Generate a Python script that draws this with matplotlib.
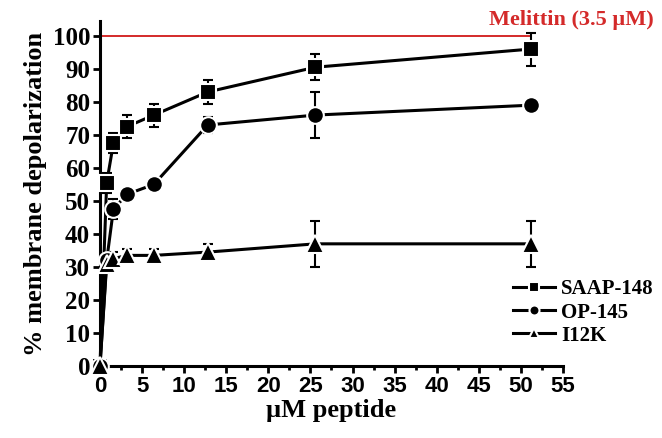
import matplotlib
matplotlib.use("Agg")
import matplotlib.pyplot as plt
from matplotlib.ticker import MultipleLocator
from matplotlib.lines import Line2D

# ---- data ----
conc = [0, 0.8, 1.6, 3.2, 6.4, 12.8, 25.6, 51.2]
saap = [0, 55.5, 67.5, 72.5, 76, 83, 90.5, 96]
saap_err = [0, 3, 3, 3.5, 3.5, 3.5, 4, 5]
op = [0, 32, 47.5, 52, 55, 73, 76, 79]
op_err = [0, 2, 3, 1, 1, 2.5, 7, 1]
i12k = [0, 31, 32.5, 33.5, 33.5, 34.5, 37, 37]
i12k_err = [0, 2, 2, 2, 2, 2.5, 7, 7]
melittin_x = [0, 51.2]
melittin_y = [100, 100]
labels = ["SAAP-148", "OP-145", "I12K"]
xticks = [0, 5, 10, 15, 20, 25, 30, 35, 40, 45, 50, 55]
yticks = [0, 10, 20, 30, 40, 50, 60, 70, 80, 90, 100]

SERIF = "Liberation Serif"
SANS = "Liberation Sans"
RED = "#d42a2a"

fig = plt.figure(figsize=(6.62, 4.38), dpi=100)
ax = fig.add_axes([0.151, 0.1644, 0.6995, 0.7877])

ax.plot(melittin_x, melittin_y, color=RED, lw=1.4, zorder=1)

series = [(saap, saap_err, "s", 11), (op, op_err, "o", 12), (i12k, i12k_err, "^", 12.5)]
handles = []
for (vals, err, mk, ms), lab in zip(series, labels):
    ax.errorbar(conc, vals, yerr=err, color="black", lw=2.2, marker=mk,
                markersize=ms, markerfacecolor="black", markeredgecolor="white",
                markeredgewidth=1.5, elinewidth=1.5, capsize=3.5, capthick=1.5,
                clip_on=False, zorder=3)
    handles.append(Line2D([], [], color="black", lw=2.2, marker=mk, markersize=ms * 0.6,
                          markerfacecolor="black", markeredgecolor="white",
                          markeredgewidth=1.5))

ax.set_xlim(0, 55)
ax.set_ylim(0, 104.5)
ax.set_xticks(xticks)
ax.set_yticks(yticks)
ax.xaxis.set_minor_locator(MultipleLocator(2.5))

for s in ["top", "right"]:
    ax.spines[s].set_visible(False)
for s in ["left", "bottom"]:
    ax.spines[s].set_linewidth(2.2)

ax.tick_params(axis="both", which="major", direction="out", length=5, width=2, pad=2)
ax.tick_params(axis="x", which="minor", direction="out", length=3, width=2)

for t in ax.get_xticklabels():
    t.set_fontfamily(SANS)
    t.set_fontweight("bold")
    t.set_fontsize(16)
for t in ax.get_yticklabels():
    t.set_fontfamily(SERIF)
    t.set_fontweight("bold")
    t.set_fontsize(18)

ax.set_xlabel("\u00b5M peptide", fontfamily=SERIF, fontweight="bold", fontsize=19, labelpad=2)
ax.set_ylabel("% membrane depolarization", fontfamily=SERIF, fontweight="bold", fontsize=19, labelpad=4)

ax.text(56.0, 104.8, "Melittin (3.5 \u00b5M)", color=RED, fontfamily=SERIF,
        fontweight="bold", fontsize=16, ha="center", va="center", clip_on=False)

ax.legend(handles=handles, labels=labels, loc="upper left",
          bbox_to_anchor=(0.875, 0.275), frameon=False, borderaxespad=0,
          handlelength=2.0, handletextpad=0.3, labelspacing=0.15,
          prop={"family": SERIF, "weight": "bold", "size": 15})

fig.savefig("out.png", dpi=100)
